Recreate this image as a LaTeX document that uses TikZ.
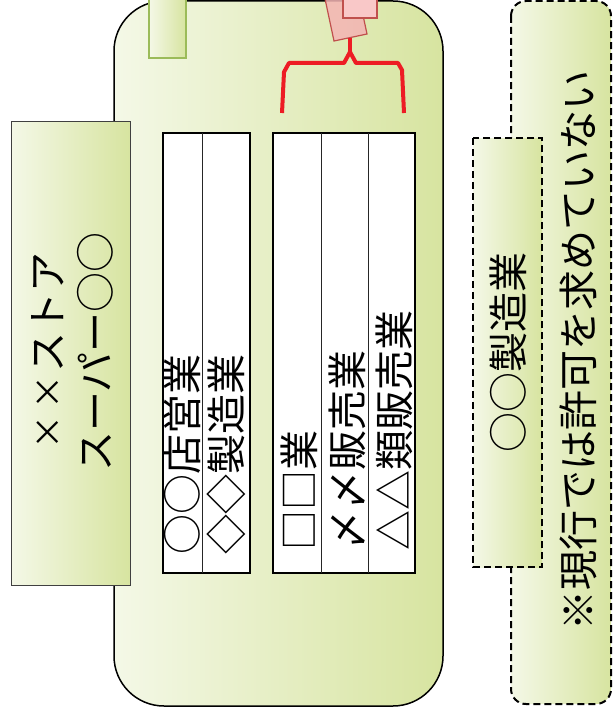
\documentclass[tikz,border=0pt]{standalone}
\usepackage{fontspec}
\newfontfamily\jp{Noto Sans CJK JP}
\definecolor{gL}{RGB}{244,248,231}
\definecolor{gR}{RGB}{215,228,160}
\definecolor{gB}{RGB}{155,187,89}
\definecolor{pk1}{RGB}{249,200,200}
\definecolor{pk2}{RGB}{244,180,180}
\definecolor{pkB}{RGB}{192,80,77}
\definecolor{brace}{RGB}{237,28,36}
\newcommand{\tms}{\makebox[1em]{\raisebox{0.05em}{\scalebox{0.85}{×}}}}
\begin{document}
\begin{tikzpicture}[x=1pt,y=1pt,
  grad/.style={left color=gL, right color=gR},
  jt/.style={font=\jp\fontsize{40}{48}\selectfont, inner sep=0pt, rotate=90},
  dsh/.style={draw=black, line width=2pt, dash pattern=on 7pt off 4pt},
  tbl/.style={fill=white, draw=black, line width=1.5pt},
  div/.style={draw=black!85, line width=1pt}
]
\useasboundingbox (0,0) rectangle (613,-717);
\clip (0,0) rectangle (613,-717);
\fill[white] (0,0) rectangle (613,-717);

% main rounded container
\draw[grad, draw=black, line width=1.5pt, rounded corners=50pt] (114,-1) rectangle (443,-706);

% top-left green tab
\draw[grad, draw=gB, line width=1.5pt] (149,5) rectangle (186,-58);

% pink tabs
\draw[fill=pk2, fill opacity=0.85, draw=pkB, line width=1.2pt] (334,-41) -- (367,-34) -- ++(-14.6,68.5) -- ++(-33,-7) -- cycle;
\draw[fill=pk1, draw=pkB, line width=1.2pt] (343,5) rectangle (377,-18);

% red brace
\draw[brace, line width=4pt, line join=round, line cap=butt]
  (282,-113) -- (284,-72) -- (289,-63) -- (344,-63) -- (350,-52) -- (356,-63) -- (398,-63) -- (402,-70) -- (404,-113);
\draw[brace, line width=4pt] (350,-53) -- (350,-38);

% left store box
\draw[grad, draw=black!75, line width=1pt] (11,-121) rectangle (130,-585);
\node[jt, align=center] (store) at (72,-352) {\tms\tms ストア\\スーパー○○};

% table 1
\draw[tbl] (163,-133) rectangle (250,-573);
\draw[div] (202,-133) -- (202,-573);
\node[jt, anchor=west] (t1) at (182.5,-555) {○○店営業};
\node[jt, anchor=west] (t2) at (226,-555) {◇◇製造業};

% table 2
\draw[tbl] (273,-133) rectangle (415,-573);
\draw[div] (321,-133) -- (321,-573);
\draw[div] (368,-133) -- (368,-573);
\node[jt, anchor=west] (t3) at (299,-551) {□□業};
\node[jt, anchor=west] (t4) at (347,-551) {〆〆販売業};
\node[jt, anchor=west] (t5) at (394,-551) {△△類販売業};

% right dashed boxes
\draw[grad, dsh, rounded corners=15pt] (511,-1) rectangle (611,-704);
\draw[grad, dsh] (473,-138) rectangle (542,-567);
\node[jt] (mfg) at (508,-352) {○○製造業};
\node[jt] (note) at (578,-350) {※現行では許可を求めていない};
\end{tikzpicture}
\end{document}
